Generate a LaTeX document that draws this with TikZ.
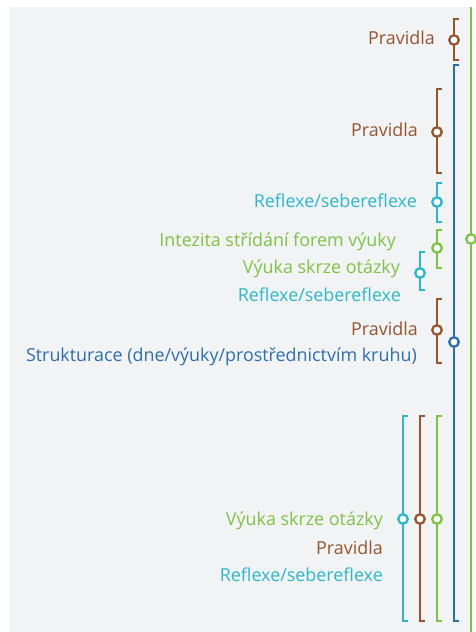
\documentclass[tikz,border=0pt]{standalone}
\usepackage{fontspec}
\setmainfont{Open Sans}
\usepackage{tikz}
\definecolor{bgc}{HTML}{F2F3F5}
\definecolor{brownc}{HTML}{96552D}
\definecolor{cyanc}{HTML}{2BB8CD}
\definecolor{greenc}{HTML}{7DC346}
\definecolor{bluec}{HTML}{2D6EB4}
\tikzset{
  bar/.style={line width=2.7pt},
  dot/.style={circle, draw, fill=white, line width=2.3pt, inner sep=0pt, minimum size=9.5pt},
  lbl/.style={anchor=east, inner sep=0pt, font=\fontsize{17.9}{20}\selectfont, text height=12.6pt, text depth=3.4pt}
}
\begin{document}
\begin{tikzpicture}[x=1pt,y=-1pt]
		\useasboundingbox (0,0) rectangle (475,632);
		\fill[bgc] (9,7) rectangle (470,632);
		
		% long lines
		\draw[bar, greenc] (471,7) -- (471,632);
		\draw[bar, bluec] (459,65) -- (454,65) -- (454,621) -- (459,621);
		
		% brackets
		\draw[bar, brownc] (459,19) -- (454,19) -- (454,60) -- (459,60);
		\draw[bar, brownc] (442,89) -- (437,89) -- (437,173) -- (442,173);
		\draw[bar, cyanc] (442,183) -- (437,183) -- (437,222) -- (442,222);
		\draw[bar, greenc] (442,230) -- (437,230) -- (437,268) -- (442,268);
		\draw[bar, cyanc] (425,252) -- (420,252) -- (420,290) -- (425,290);
		\draw[bar, brownc] (442,299) -- (437,299) -- (437,363) -- (442,363);
		
		\draw[bar, cyanc] (408,416) -- (403,416) -- (403,621) -- (408,621);
		\draw[bar, brownc] (425,416) -- (420,416) -- (420,621) -- (425,621);
		\draw[bar, greenc] (442,416) -- (437,416) -- (437,621) -- (442,621);
		
		% markers
		\node[dot, draw=greenc] (g0) at (471,239) {};
		\node[dot, draw=bluec] (b0) at (454,342) {};
		\node[dot, draw=brownc] (p1) at (454,40) {};
		\node[dot, draw=brownc] (p2) at (437,132) {};
		\node[dot, draw=cyanc] (r1) at (437,202) {};
		\node[dot, draw=greenc] (g1) at (437,248) {};
		\node[dot, draw=cyanc] (r2) at (420,273) {};
		\node[dot, draw=brownc] (p3) at (437,330) {};
		\node[dot, draw=cyanc] (r3) at (403,519) {};
		\node[dot, draw=brownc] (p4) at (420,519) {};
		\node[dot, draw=greenc] (g2) at (437,519) {};
		
		% labels
		\node[lbl, text=brownc] (tp1) at (435,40) {Pravidla};
		\node[lbl, text=brownc] (tp2) at (418,132) {Pravidla};
		\node[lbl, text=cyanc] (tr1) at (417,203) {Reflexe/sebereflexe};
		\node[lbl, text=greenc] (tg1) at (396,242) {Intezita střídání forem výuky};
		\node[lbl, text=greenc] (tg2) at (400,269) {Výuka skrze otázky};
		\node[lbl, text=cyanc] (tr2) at (401,297) {Reflexe/sebereflexe};
		\node[lbl, text=brownc] (tp3) at (418,331) {Pravidla};
		\node[lbl, text=bluec] (tb1) at (417,357) {Strukturace (dne/výuky/prostřednictvím kruhu)};
		\node[lbl, text=greenc] (tg3) at (383,521) {Výuka skrze otázky};
		\node[lbl, text=brownc] (tp4) at (383,550) {Pravidla};
		\node[lbl, text=cyanc] (tr3) at (383,577) {Reflexe/sebereflexe};
	\end{tikzpicture}
\end{document}
